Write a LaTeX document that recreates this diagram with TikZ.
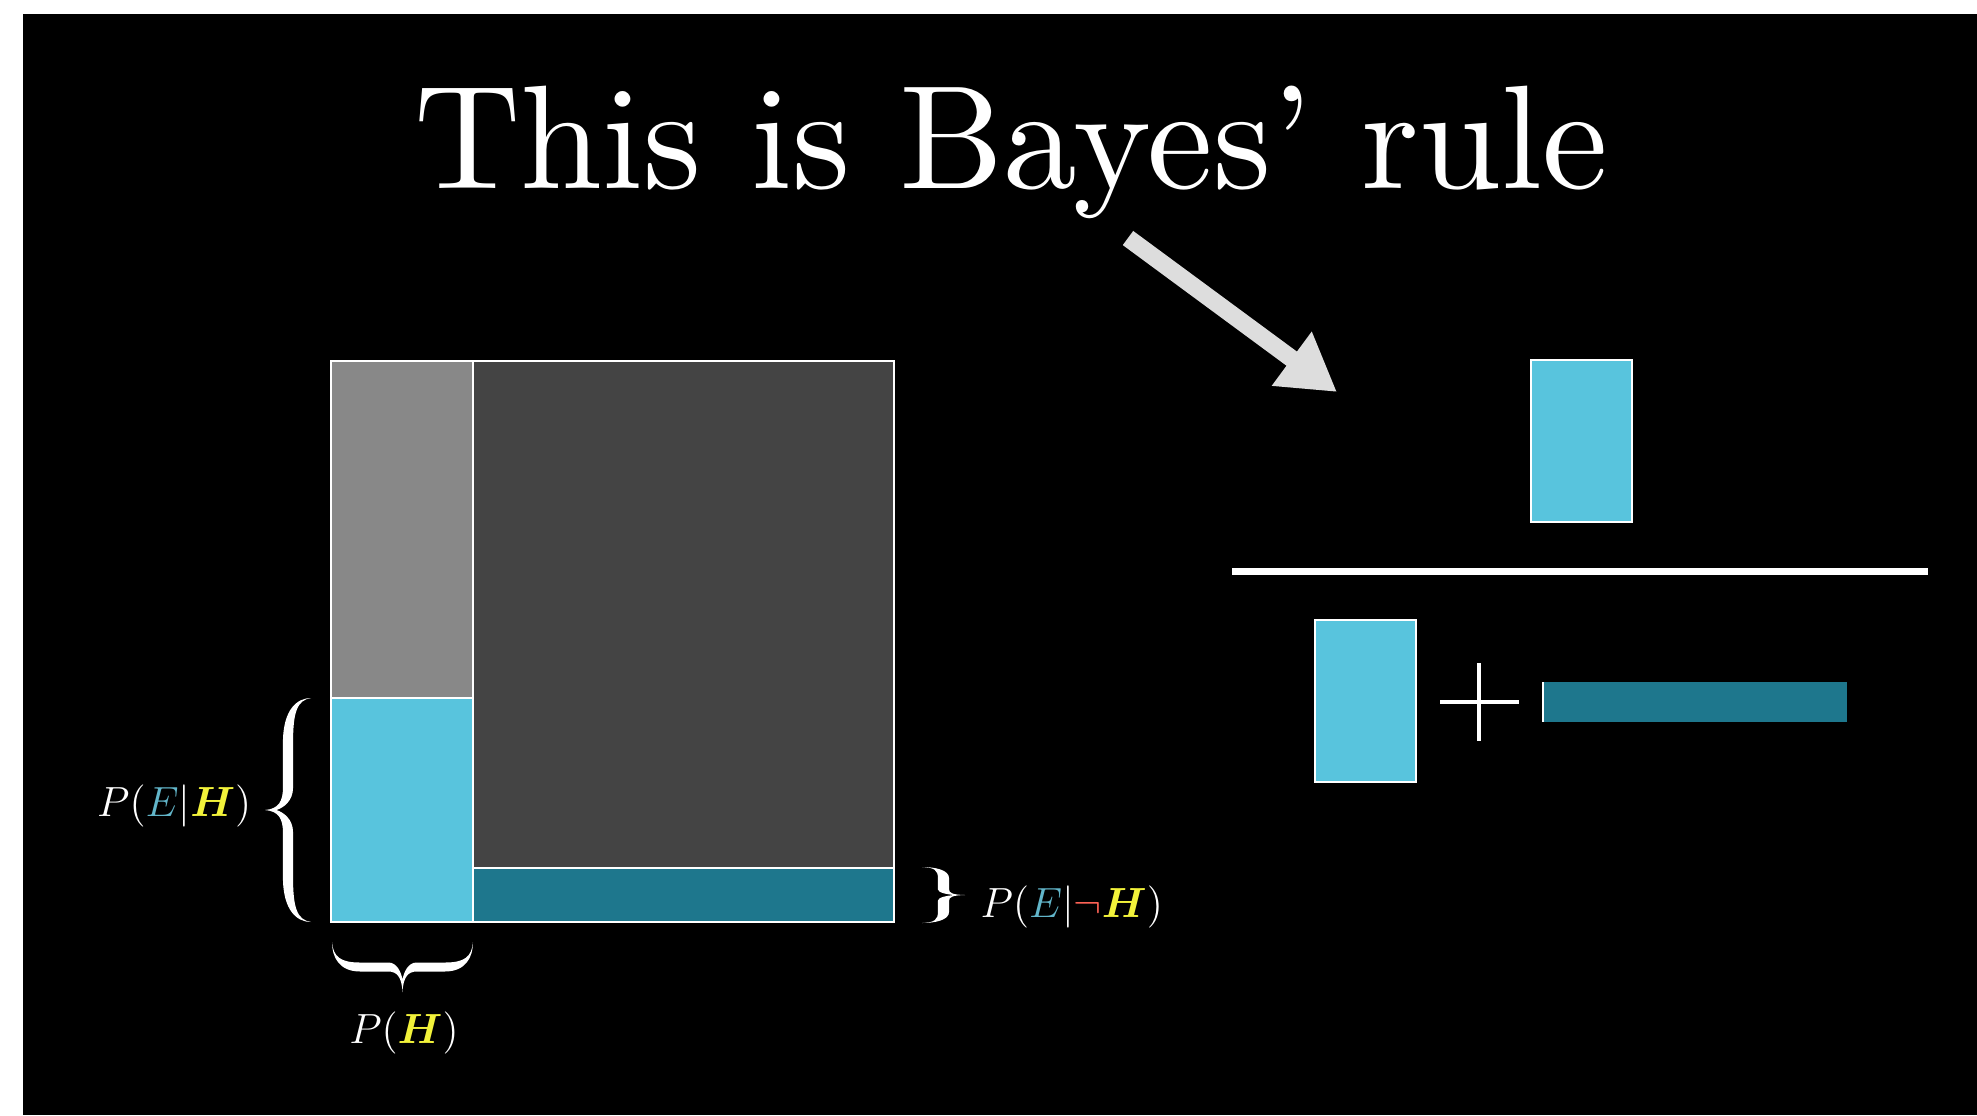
\documentclass[tikz,border=0pt]{standalone}
\usepackage{amsmath}
\usepackage{fontspec}
\newfontfamily\titlefont{lmroman10-regular.otf}
\usetikzlibrary{arrows.meta}
\definecolor{bcyan}{HTML}{58C4DD}
\definecolor{bteal}{HTML}{1E778D}
\definecolor{lgray}{HTML}{888888}
\definecolor{dgray}{HTML}{444444}
\definecolor{hyel}{HTML}{F2F23A}
\definecolor{ered}{HTML}{FC6255}
\definecolor{eblue}{HTML}{62B5C9}
\definecolor{arrowgray}{HTML}{DDDDDD}
\newcommand{\BraceShape}[1]{%
  \fill[white] (0,0) .. controls (0.01,0.3) and (0.06,{0.5-#1}) .. (0.2,{0.5-#1})
   -- (0.4,{0.5-#1}) .. controls (0.46,{0.5-#1}) and (0.49,0.6) .. (0.5,0.75)
   .. controls (0.51,0.6) and (0.54,{0.5-#1}) .. (0.6,{0.5-#1})
   -- (0.8,{0.5-#1}) .. controls (0.94,{0.5-#1}) and (0.99,0.3) .. (1,0)
   .. controls (1,0.3) and (0.95,{0.5+#1}) .. (0.8,{0.5+#1})
   -- (0.6,{0.5+#1}) .. controls (0.54,{0.5+#1}) and (0.505,0.7) .. (0.5,1)
   .. controls (0.495,0.7) and (0.46,{0.5+#1}) .. (0.4,{0.5+#1})
   -- (0.2,{0.5+#1}) .. controls (0.05,{0.5+#1}) and (0,0.3) .. (0,0) -- cycle;}
\begin{document}
\begin{tikzpicture}[x=0.1mm,y=-0.1mm,
  box/.style={draw=white, line width=0.6pt, inner sep=0pt, outer sep=0pt, anchor=north west},
  lbl/.style={text=white, inner sep=0pt, font=\fontsize{11.8}{14}\selectfont}]
\fill[black] (0,0) rectangle (1977,1115);
\fill[white] (0,0) rectangle (1977,14);
\fill[white] (0,0) rectangle (23,1115);

% title and arrow
\node[text=white, inner sep=0pt, anchor=base, font=\titlefont\fontsize{42}{50}\selectfont] (title) at (1011,188) {This is Bayes’ rule};
\coordinate (as) at (1128,238);
\coordinate (ae) at (1337,392);
\draw[arrowgray, line width=5pt, -{Triangle[length=16pt,width=18pt]}] (as) -- (ae);

% left square
\node[box, fill=dgray, minimum width=42.1mm, minimum height=50.7mm] (nothyp) at (473,361) {};
\node[box, fill=bteal, minimum width=42.1mm, minimum height=5.4mm] (enh) at (473,868) {};
\node[box, fill=lgray, minimum width=14.2mm, minimum height=33.7mm] (hyp) at (331,361) {};
\node[box, fill=bcyan, minimum width=14.2mm, minimum height=22.4mm] (eh) at (331,698) {};

% braces
\begin{scope}[shift={(332,942)}, x={(14.1mm,0mm)}, y={(0mm,-5mm)}]
  \BraceShape{0.09}
\end{scope}
\begin{scope}[shift={(311,922)}, x={(0mm,22.4mm)}, y={(-4.6mm,0mm)}]
  \BraceShape{0.11}
\end{scope}
\begin{scope}[shift={(922,867)}, x={(0mm,-5.6mm)}, y={(4.3mm,0mm)}]
  \BraceShape{0.13}
\end{scope}

% labels
\node[lbl, anchor=east] (peh) at (252,806) {$P({\color{eblue}E}|{\color{hyel}\boldsymbol{H}})$};
\node[lbl, anchor=base] (ph) at (404,1043) {$P({\color{hyel}\boldsymbol{H}})$};
\node[lbl, anchor=base west] (penh) at (980,917) {$P({\color{eblue}E}|{\color{ered}\neg}{\color{hyel}\boldsymbol{H}})$};

% fraction
\node[box, fill=bcyan, minimum width=10.1mm, minimum height=16.2mm] (numer) at (1531,360) {};
\coordinate (fl) at (1232,571);
\coordinate (fr) at (1928,571);
\draw[white, line width=2pt] (fl) -- (fr);
\node[box, fill=bcyan, minimum width=10.1mm, minimum height=16.2mm] (den1) at (1315,620) {};
\coordinate (pl) at (1440,702);
\coordinate (pr) at (1519,702);
\coordinate (pt) at (1479,663);
\coordinate (pb) at (1479,741);
\draw[white, line width=1.2pt] (pl) -- (pr) (pt) -- (pb);
\node[box, draw=none, fill=bteal, minimum width=30.4mm, minimum height=4.0mm] (den2) at (1543,682) {};
\draw[white, line width=0.8pt] (den2.north west) -- (den2.south west);
\end{tikzpicture}
\end{document}
